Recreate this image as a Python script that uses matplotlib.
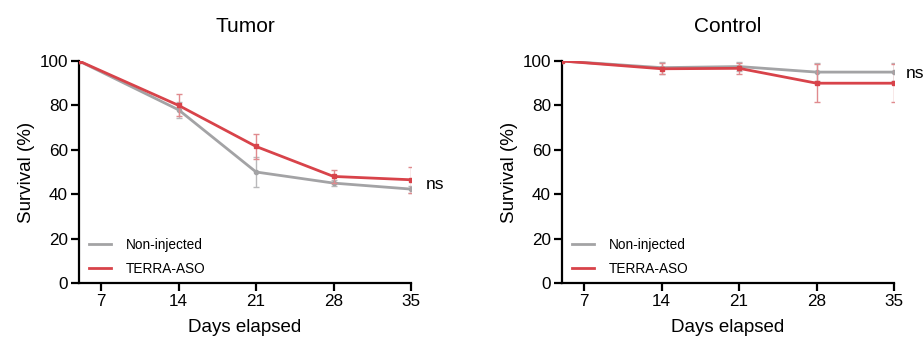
import matplotlib
matplotlib.use("Agg")
import matplotlib.pyplot as plt
from matplotlib.lines import Line2D

plt.rcParams['font.family'] = ['Liberation Sans', 'DejaVu Sans']

days = [5, 14, 21, 28, 35]
tick_days = [7, 14, 21, 28, 35]

tumor_ctrl = [100, 78, 50, 45, 42.3]
tumor_ctrl_err = [0, 3.5, 6.6, 1.2, 1.6]
tumor_aso = [100, 80, 61.5, 48, 46.5]
tumor_aso_err = [0, 5, 5.5, 3, 5.8]

control_ctrl = [100, 97, 97.5, 95, 95]
control_ctrl_err = [0, 2.7, 2.2, 4, 4]
control_aso = [100, 96.5, 96.7, 90, 90]
control_aso_err = [0, 2.5, 2.5, 8.5, 8.5]

GRAY = '#a3a3a5'
RED = '#d8434a'

fig = plt.figure(figsize=(9.24, 3.43), dpi=100)
ax1 = fig.add_axes([79/924, 1-283/343, 332/924, 222/343])
ax2 = fig.add_axes([562/924, 1-283/343, 332/924, 222/343])

def draw(ax, title, ctrl, ctrl_err, aso, aso_err, ns_x, ns_y):
    ax.errorbar(days, ctrl, yerr=ctrl_err, color=GRAY, lw=2.0, marker='o', ms=3,
                ecolor='#b9b9bb', elinewidth=1, capsize=2.5, capthick=1, zorder=3)
    ax.errorbar(days, aso, yerr=aso_err, color=RED, lw=2.0, marker='s', ms=3,
                ecolor='#e08a8e', elinewidth=1, capsize=2.5, capthick=1, zorder=4)
    ax.set_xlim(5, 35)
    ax.set_ylim(0, 100)
    ax.set_xticks(tick_days)
    ax.set_yticks([0, 20, 40, 60, 80, 100])
    for s in ['top', 'right']:
        ax.spines[s].set_visible(False)
    for s in ['left', 'bottom']:
        ax.spines[s].set_linewidth(1.6)
        ax.spines[s].set_capstyle('projecting')
    ax.tick_params(width=1.6, length=6, labelsize=12.3, pad=2)
    ax.set_xlabel('Days elapsed', fontsize=13.5, labelpad=7)
    ax.set_ylabel('Survival (%)', fontsize=13.5, labelpad=3)
    ax.set_title(title, fontsize=15, pad=21)
    ax.text(ns_x, ns_y, 'ns', fontsize=12.5, va='center', ha='left', clip_on=False)
    handles = [Line2D([], [], color=GRAY, lw=2.0), Line2D([], [], color=RED, lw=2.0)]
    ax.legend(handles, ['Non-injected', 'TERRA-ASO'], loc='lower left', frameon=False,
              fontsize=9.8, handlelength=1.6, handletextpad=1.1, labelspacing=0.75,
              borderaxespad=0.1, bbox_to_anchor=(0.01, 0.0))

draw(ax1, 'Tumor', tumor_ctrl, tumor_ctrl_err, tumor_aso, tumor_aso_err, 36.3, 44.5)
draw(ax2, 'Control', control_ctrl, control_ctrl_err, control_aso, control_aso_err, 36.1, 94.5)

fig.savefig('out.png', dpi=100)
